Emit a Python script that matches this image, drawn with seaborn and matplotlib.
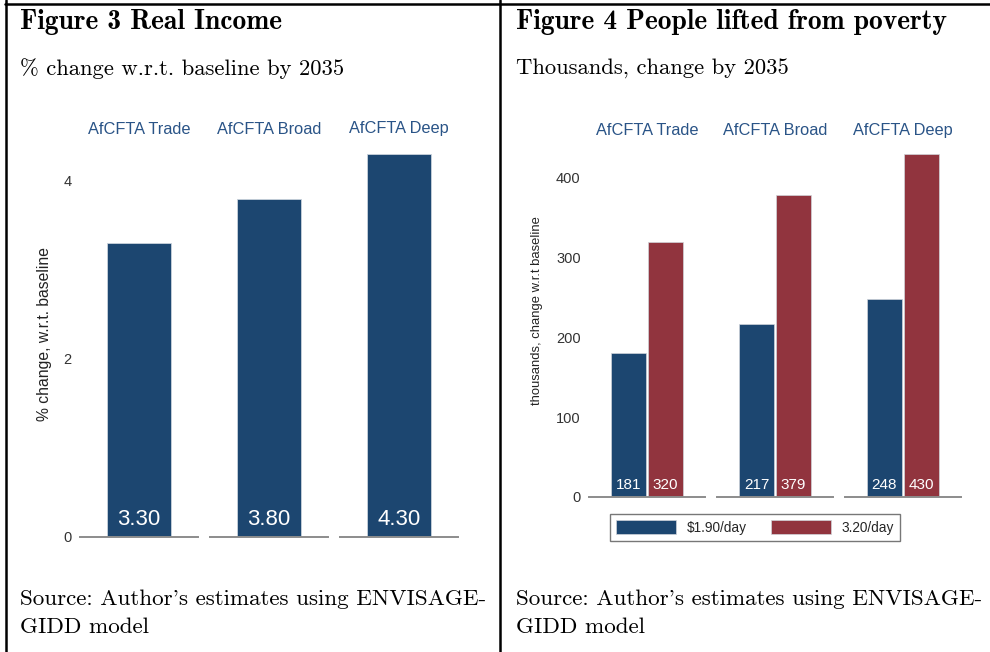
import matplotlib
matplotlib.use("Agg")
import matplotlib.pyplot as plt
from matplotlib.patches import Patch
from matplotlib.lines import Line2D
import pandas as pd
import seaborn as sns

# ---- data -------------------------------------------------------------
categories = ["AfCFTA Trade", "AfCFTA Broad", "AfCFTA Deep"]
income_change = [3.30, 3.80, 4.30]          # % change w.r.t. baseline
poverty_lines = ["$1.90/day", "3.20/day"]
lifted_190 = [181, 217, 248]                # thousands
lifted_320 = [320, 379, 430]                # thousands
income_ticks = [0, 2, 4]
poverty_ticks = [0, 100, 200, 300, 400]

BLUE = "#1c4670"
RED = "#91343e"
LABEL_BLUE = "#2a5487"
TICK_GREY = "#333333"
BASE_GREY = "#8c8c8c"

sns.set_theme(style="white")
plt.rcParams["font.family"] = ["Liberation Sans", "DejaVu Sans"]

W, H = 990, 652
fig = plt.figure(figsize=(W / 100, H / 100), dpi=100)


def box(x0, x1, y_top, y_bot):
    """Axes rectangle from pixel coordinates (origin top-left)."""
    return [x0 / W, 1 - y_bot / H, (x1 - x0) / W, (y_bot - y_top) / H]


def style_panel(ax, first, ticks, ylim):
    ax.set_xlim(-0.5, 0.5)
    ax.set_ylim(*ylim)
    for s in ("top", "right", "left"):
        ax.spines[s].set_visible(False)
    ax.spines["bottom"].set_color(BASE_GREY)
    ax.spines["bottom"].set_linewidth(1.4)
    ax.set_xticks([])
    ax.set_xlabel("")
    ax.set_ylabel("")
    ax.set_yticks(ticks)
    ax.tick_params(axis="y", length=0, pad=6, labelsize=10.5, labelcolor=TICK_GREY)
    if not first:
        ax.set_yticklabels([])
    ax.grid(False)
    ax.set_facecolor("none")


# ---- Figure 3: real income -------------------------------------------
income_df = pd.DataFrame({"scenario": categories, "change": income_change})
for i, cat in enumerate(categories):
    x0 = 80 + 130 * i
    ax = fig.add_axes(box(x0, x0 + 118, 136.5, 537))
    sub = income_df[income_df["scenario"] == cat]
    sns.barplot(data=sub, x="scenario", y="change", color=BLUE, width=0.55,
                saturation=1, edgecolor="#c9d2dc", linewidth=0.6, ax=ax)
    style_panel(ax, i == 0, income_ticks, (0, 4.5))
    if i == 0:
        ax.set_yticklabels([str(t) for t in income_ticks])
    ax.set_title(cat, color=LABEL_BLUE, fontsize=11.8, pad=2)
    for bar, v in zip(ax.patches, sub["change"]):
        ax.annotate(f"{v:.2f}", (bar.get_x() + bar.get_width() / 2, 0),
                    xytext=(0, 5), textcoords="offset points",
                    ha="center", va="bottom", color="white", fontsize=16)

fig.text(45 / W, 1 - 334 / H, "% change, w.r.t. baseline", rotation=90,
         ha="center", va="center", fontsize=11.3, color="#222222")

# ---- Figure 4: people lifted from poverty ----------------------------
poverty_df = pd.DataFrame({
    "scenario": categories * 2,
    "line": [poverty_lines[0]] * 3 + [poverty_lines[1]] * 3,
    "people": lifted_190 + lifted_320,
})
for i, cat in enumerate(categories):
    x0 = 589 + 128 * i
    ax = fig.add_axes(box(x0, x0 + 116, 138, 497))
    sub = poverty_df[poverty_df["scenario"] == cat]
    sns.barplot(data=sub, x="scenario", y="people", hue="line",
                hue_order=poverty_lines, palette=[BLUE, RED], width=0.64,
                gap=0.05, saturation=1, edgecolor="#d0d4da", linewidth=0.5,
                legend=False, ax=ax)
    style_panel(ax, i == 0, poverty_ticks, (0, 450))
    ax.set_title(cat, color=LABEL_BLUE, fontsize=11.8, pad=2)
    for bar in ax.patches:
        h = bar.get_height()
        ax.annotate(f"{h:.0f}", (bar.get_x() + bar.get_width() / 2, 0),
                    xytext=(0, 3.5), textcoords="offset points",
                    ha="center", va="bottom", color="white", fontsize=11)

fig.text(537 / W, 1 - 311 / H, "thousands, change w.r.t baseline", rotation=90,
         ha="center", va="center", fontsize=9.4, color="#222222")

handles = [Patch(facecolor=BLUE, edgecolor="#d0d4da", linewidth=0.5),
           Patch(facecolor=RED, edgecolor="#d0d4da", linewidth=0.5)]
leg = fig.legend(handles, poverty_lines, loc="center",
                 bbox_to_anchor=(755 / W, 1 - 527.5 / H), ncol=2,
                 fontsize=9.8, frameon=True, fancybox=False,
                 handlelength=4.4, handleheight=1.2, handletextpad=0.8,
                 columnspacing=1.8, borderpad=0.45, borderaxespad=0)
leg.get_frame().set_edgecolor("#555555")
leg.get_frame().set_linewidth(1.0)

# ---- text blocks in a serif face -------------------------------------
def serif(x, y, s, bold=False, size=16.3):
    fig.text(x / W, 1 - y / H, s, ha="left", va="baseline",
             family="cmb10" if bold else "cmr10", fontsize=size, color="black")


serif(20, 29, "Figure 3 Real Income", bold=True, size=19.8)
serif(20, 75, "% change w.r.t. baseline by 2035")
serif(20, 605, "Source: Author's estimates using ENVISAGE-", size=16.6)
serif(20, 633, "GIDD model", size=16.6)

serif(516, 29, "Figure 4 People lifted from poverty", bold=True, size=19.8)
serif(516, 75, "Thousands, change by 2035")
serif(516, 605, "Source: Author's estimates using ENVISAGE-", size=16.6)
serif(516, 633, "GIDD model", size=16.6)

# ---- table rules -----------------------------------------------------
for xs, ys in [((5, W), (4, 4)), ((6, 6), (0, H)), ((500, 500), (0, H))]:
    fig.add_artist(Line2D([x / W for x in xs], [1 - y / H for y in ys],
                          color="black", linewidth=1.8))

fig.savefig("out.png", dpi=100)
